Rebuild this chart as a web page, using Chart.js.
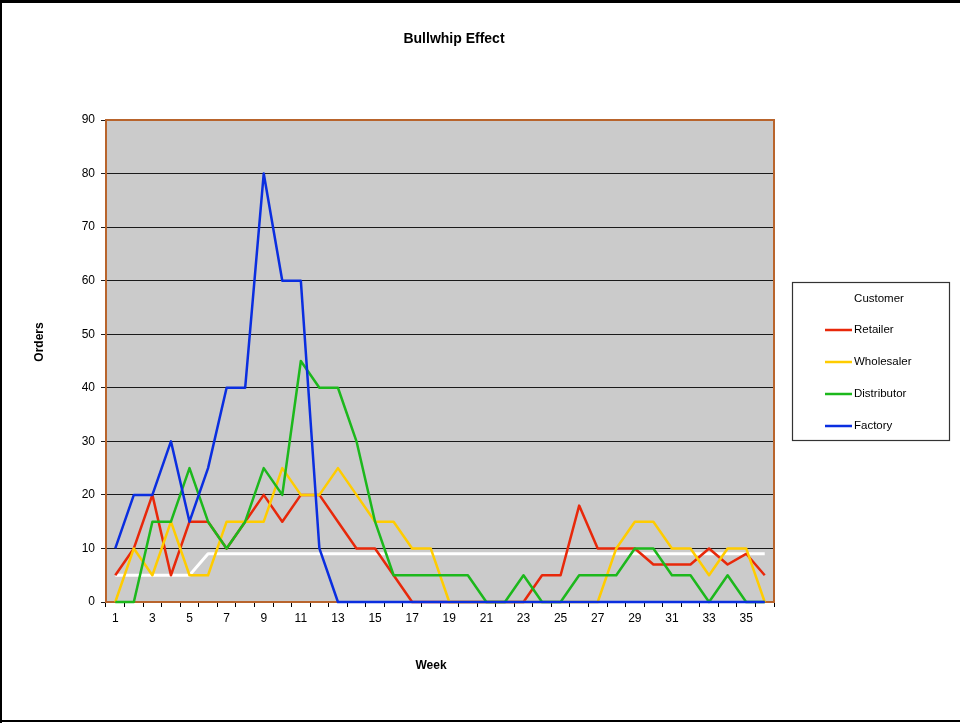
<!DOCTYPE html>
<html>
<head>
<meta charset="utf-8">
<title>Bullwhip Effect</title>
<script src="https://cdn.jsdelivr.net/npm/chart.js@4.4.1/dist/chart.umd.min.js"></script>
<style>
  html, body { margin: 0; padding: 0; background: #ffffff; }
  #wrap { width: 960px; height: 723px; }
</style>
</head>
<body>
<div id="wrap"><canvas id="chart" width="960" height="723"></canvas></div>
<script>
// Weekly order quantities placed by each stage of the supply chain
const weeks = ['1','2','3','4','5','6','7','8','9','10','11','12','13','14','15','16','17','18',
               '19','20','21','22','23','24','25','26','27','28','29','30','31','32','33','34','35','36'];

const retailer    = [5,10,20,5,15,15,10,15,20,15,20,20,15,10,10,5,0,0,0,0,0,0,0,5,5,18,10,10,10,7,7,7,10,7,9,5];
const wholesaler  = [0,10,5,15,5,5,15,15,15,25,20,20,25,20,15,15,10,10,0,0,0,0,0,0,0,0,0,10,15,15,10,10,5,10,10,0];
const distributor = [0,0,15,15,25,15,10,15,25,20,45,40,40,30,15,5,5,5,5,5,0,0,5,0,0,5,5,5,10,10,5,5,0,5,0,0];
const factory     = [10,20,20,30,15,25,40,40,80,60,60,10,0,0,0,0,0,0,0,0,0,0,0,0,0,0,0,0,0,0,0,0,0,0,0,0];
const customerDemand = [5,5,5,5,5,9,9,9,9,9,9,9,9,9,9,9,9,9,9,9,9,9,9,9,9,9,9,9,9,9,9,9,9,9,9,9];

const yTicks = [0,10,20,30,40,50,60,70,80,90];

const seriesNames  = ['Retailer', 'Wholesaler', 'Distributor', 'Factory'];
const seriesColors = ['#E8280A', '#FFCC00', '#1CB81C', '#0A2EE0'];

const FONT = "'Liberation Sans', Arial, Helvetica, sans-serif";

// Page furniture: backgrounds, plot frame, titles and the legend box
const furniture = {
  id: 'furniture',
  beforeDraw(chart) {
    const { ctx, chartArea: a } = chart;
    ctx.save();
    ctx.fillStyle = '#ffffff';
    ctx.fillRect(0, 0, chart.width, chart.height);
    ctx.fillStyle = '#CBCBCB';
    ctx.fillRect(a.left, a.top, a.right - a.left, a.bottom - a.top);
    ctx.restore();
  },
  beforeDatasetsDraw(chart) {
    const { ctx, chartArea: a } = chart;
    ctx.save();
    ctx.strokeStyle = '#B8642C';
    ctx.lineWidth = 2;
    ctx.strokeRect(a.left, a.top, a.right - a.left, a.bottom - a.top);
    ctx.restore();
  },
  afterDraw(chart) {
    const { ctx } = chart;
    ctx.save();
    // outer frame
    ctx.fillStyle = '#000000';
    ctx.fillRect(0, 0, chart.width, 3);
    ctx.fillRect(0, 0, 2, chart.height);
    ctx.fillRect(0, chart.height - 3, chart.width, 2);

    // chart title
    ctx.fillStyle = '#000000';
    ctx.textAlign = 'center';
    ctx.textBaseline = 'middle';
    ctx.font = 'bold 14px ' + FONT;
    ctx.fillText('Bullwhip Effect', 454, 39);

    // axis titles
    ctx.font = 'bold 12px ' + FONT;
    ctx.fillText('Week', 431, 666);
    ctx.save();
    ctx.translate(40, 342);
    ctx.rotate(-Math.PI / 2);
    ctx.fillText('Orders', 0, 0);
    ctx.restore();

    // legend
    ctx.strokeStyle = '#333333';
    ctx.lineWidth = 1.2;
    ctx.strokeRect(792.5, 282.5, 157, 158);
    ctx.font = '11.5px ' + FONT;
    ctx.fillText('Customer', 879, 299);
    ctx.textAlign = 'left';
    seriesNames.forEach((name, i) => {
      const y = 330 + i * 32;
      ctx.strokeStyle = seriesColors[i];
      ctx.lineWidth = 2.5;
      ctx.beginPath();
      ctx.moveTo(825, y);
      ctx.lineTo(852, y);
      ctx.stroke();
      ctx.fillStyle = '#000000';
      ctx.fillText(name, 854, y);
    });
    ctx.restore();
  }
};

const seriesData = [retailer, wholesaler, distributor, factory];
const datasets = seriesNames.map((name, i) => ({
  label: name,
  data: seriesData[i],
  borderColor: seriesColors[i],
  backgroundColor: seriesColors[i],
  borderWidth: 2.5,
  borderJoinStyle: 'round',
  pointRadius: 0,
  tension: 0,
  clip: 3,
  order: 4 - i
}));
datasets.push({
  label: 'Customer demand',
  data: customerDemand,
  borderColor: '#ffffff',
  backgroundColor: '#ffffff',
  borderWidth: 3,
  borderJoinStyle: 'round',
  pointRadius: 0,
  tension: 0,
  clip: 3,
  order: 10
});

new Chart(document.getElementById('chart'), {
  type: 'line',
  data: { labels: weeks, datasets },
  plugins: [furniture],
  options: {
    responsive: false,
    animation: false,
    events: [],
    layout: { padding: { left: 0, top: 120, right: 186, bottom: 91 } },
    plugins: { legend: { display: false }, title: { display: false }, tooltip: { enabled: false } },
    scales: {
      x: {
        type: 'category',
        offset: true,
        afterFit(scale) { scale.height = 30; },
        grid: { offset: true, drawOnChartArea: false, drawTicks: true, tickLength: 5, color: '#000000' },
        border: { display: false },
        ticks: {
          autoSkip: false,
          maxRotation: 0,
          padding: 4,
          color: '#000000',
          font: { family: FONT, size: 12 },
          callback(value, index) { return index % 2 === 0 ? weeks[index] : ''; }
        }
      },
      y: {
        min: yTicks[0],
        max: yTicks[yTicks.length - 1],
        afterFit(scale) { scale.width = 106; },
        afterBuildTicks(scale) { scale.ticks = yTicks.map(v => ({ value: v })); },
        grid: { color: '#1a1a1a', lineWidth: 1, tickLength: 5 },
        border: { display: false },
        ticks: {
          padding: 6,
          color: '#000000',
          font: { family: FONT, size: 12 }
        }
      }
    }
  }
});
</script>
</body>
</html>
